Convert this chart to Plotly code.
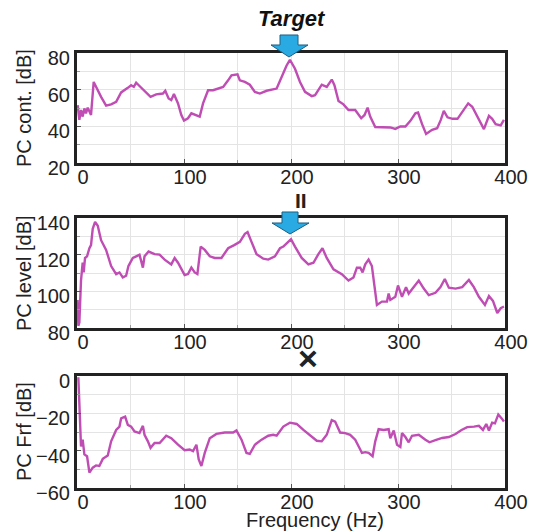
import plotly.graph_objects as go
from plotly.subplots import make_subplots

# ---- Data ----
freq_cont = [0.6, 1.25, 2.2, 3.75, 5.3, 6.9, 8.4, 10, 11.6, 13.1, 15.6, 17.8, 22.5, 27.2, 31.9, 36.6,
             41.25, 47.5, 50.6, 53.1, 55.3, 58.4, 63, 68.75, 74, 80.3, 82.5, 85.6, 88.1, 90.6, 94.4,
             97.5, 100, 103.75, 106.9, 111.6, 114.7, 117.8, 122.5, 127.2, 131.9, 136.6, 141.25, 144.4,
             150, 152.2, 156.9, 161.5, 166.25, 170.9, 177.2, 183.4, 186.6, 191.25, 195.9, 199, 203.75,
             208.4, 213.1, 219.4, 222.5, 228.75, 233.4, 238.1, 240.6, 244.4, 249, 253.75, 260, 265.6,
             268.75, 271.6, 274, 278.75, 285, 292.8, 297.5, 302.2, 306.9, 311.6, 316.25, 318.75, 322.5,
             326.25, 331.9, 336.6, 340, 342.8, 346.25, 350.9, 355.6, 360, 365.6, 369.4, 375.6, 380.3,
             385, 388, 391.25, 396, 399]
cont_db = [51.6, 46.2, 43.5, 48.9, 45.3, 49.8, 47.1, 50.2, 48.0, 46.2, 64.2, 61.5, 56.1, 51.3, 52.0, 53.4,
           58.5, 61.0, 62.4, 61.5, 63.8, 62.0, 59.2, 56.1, 57.4, 57.9, 59.4, 55.2, 54.3, 57.6, 52.5,
           46.2, 43.2, 44.4, 47.1, 46.2, 45.3, 52.5, 59.7, 59.7, 60.6, 61.5, 65.1, 67.8,
           68.4, 65.1, 64.2, 62.7, 58.8, 57.9, 59.4, 60.3, 60.6, 66.9, 73.2, 76.3, 71.4,
           64.2, 58.8, 56.5, 57.0, 62.7, 61.5, 65.5, 62.4, 53.8, 52.0, 48.9, 48.9, 44.4,
           46.2, 50.2, 45.3, 39.6, 39.6, 39.4, 38.6, 39.9, 39.9, 43.0, 47.1, 47.5, 41.2,
           35.8, 38.1, 39.0, 43.5, 48.4, 44.9, 44.1, 44.1, 48.0, 52.5, 50.7, 43.5, 38.5,
           45.7, 44.1, 41.2, 40.5, 43.5]

freq_level = [0.6, 1.25, 2.2, 3.75, 5.3, 6.25, 7.5, 9.4, 11.6, 13.1, 14.7, 16.9, 19.4, 22.5, 27.2, 31.9,
              36.6, 39.7, 42.8, 45.9, 48.1, 52.2, 55.3, 58.4, 61.6, 63.1, 66.9, 72.5, 77.2, 81.9, 88.1,
              91.25, 94.4, 100.6, 103.75, 106.9, 110, 112.5, 115.6, 119.4, 124.1, 128.75, 135, 141.25,
              146.9, 152.2, 156.9, 159.4, 163.1, 167.8, 174.1, 178.75, 185, 189.7, 192.8, 200, 203.75,
              210, 216.25, 221, 225.6, 229.4, 233.4, 239.7, 247.5, 253.75, 258.4, 261.6, 264.7, 266.9,
              269.4, 272.5, 275.6, 278.75, 280.3, 285, 289.7, 291.25, 292.8, 297.5, 300, 303.75, 307.5,
              310, 316.25, 319.4, 324.1, 328.75, 335, 339.7, 343.75, 347.5, 353.75, 360, 366.25, 370.9,
              375.6, 381.25, 385, 388.75, 392.8, 396, 399]
level_db = [95.3, 81.2, 83.0, 105.9, 115.6, 110.3, 118.2, 119.1, 123.5, 125.2, 134.1, 137.9, 135.8, 127.9,
            122.6, 113.8, 109.4, 110.3, 107.6, 108.5, 113.8, 118.2, 119.1, 120.0, 112.9, 119.1, 121.7,
            120.3, 120.0, 117.3, 114.7, 118.2, 115.6, 108.9, 109.4, 112.9, 110.3, 109.4, 124.4, 122.6,
            119.1, 118.2, 118.2, 123.5, 125.2, 127.0, 131.4, 132.3, 127.0, 120.3, 117.8, 117.3, 119.1,
            123.5, 124.4, 128.4, 124.4, 118.2, 114.7, 115.6, 120.3, 123.5, 118.2, 112.0, 109.4, 105.9,
            107.6, 112.9, 112.9, 110.3, 114.7, 117.3, 113.8, 100.6, 92.6, 94.4, 94.4, 98.8, 95.3, 97.0,
            103.2, 97.0, 102.3, 98.8, 103.2, 105.9, 101.5, 97.9, 99.2, 102.3, 106.7, 102.0, 101.5, 102.3,
            106.2, 102.3, 97.0, 92.6, 97.4, 94.8, 88.2, 90.8, 91.7]

freq_frf = [1.25, 2.2, 3.1, 3.75, 5.3, 6.9, 9.4, 11.6, 14.7, 17.8, 20.9, 24.1, 28.75, 31.9, 36.6, 39.7,
            41.25, 45, 47.5, 50.6, 53.75, 58.4, 61.6, 63.1, 66.25, 68.75, 72.5, 77.2, 83.4, 88.1, 94.4,
            100.6, 105.3, 108.4, 111.6, 113.75, 116.25, 119.4, 124.1, 130.3, 138.1, 145.9, 149, 153.75,
            158.4, 161.5, 166.25, 172.5, 178.75, 183.4, 186.6, 192.8, 199, 205.3, 211.6, 217.8, 224.1,
            228.75, 233.4, 238.1, 241.25, 245.9, 250.6, 255.3, 260, 264.7, 266.25, 269.4, 272.5, 276.25,
            278.75, 281.9, 286.6, 291.25, 292.8, 296, 299.1, 302.2, 303.75, 306.9, 310, 313.1, 319.4,
            325.6, 329.4, 335, 341.25, 347.5, 353.75, 359.4, 364.7, 371, 375.6, 379.4, 382.5, 385, 388,
            390.6, 393.75, 396.9, 399]
frf_db = [-0.7, -16.5, -25.3, -37.7, -34.1, -42.0, -43.0, -51.8, -49.1, -47.9, -48.2, -44.4, -42.6, -35.0,
          -28.9, -27.1, -22.7, -21.8, -26.2, -27.1, -29.7, -30.6, -26.7, -31.5, -35.0, -38.5, -35.9, -35.9,
          -32.0, -33.3, -36.8, -39.8, -39.4, -40.3, -36.8, -44.7, -48.2, -41.2, -33.3, -31.0, -30.3, -30.3,
          -29.2, -34.1, -41.2, -41.7, -36.8, -34.1, -32.0, -31.5, -32.0, -27.1, -25.0, -25.7, -28.9, -32.0,
          -34.7, -35.0, -31.5, -23.6, -24.4, -30.3, -30.6, -31.5, -34.1, -39.4, -41.2, -40.8, -41.2, -43.0,
          -35.0, -28.5, -28.9, -28.5, -33.3, -29.2, -36.8, -38.0, -30.6, -32.7, -35.5, -32.0, -31.5,
          -34.1, -35.5, -34.4, -33.2, -32.7, -31.1, -28.9, -27.4, -27.1, -26.7, -28.9, -25.7, -29.2, -25.0,
          -25.4, -20.6, -22.7, -24.4]

y_titles = ["PC cont. [dB]", "PC level [dB]", "PC Frf [dB]"]
y_ranges = [[20, 80], [80, 140], [-60, 0]]
x_ticks = [0, 100, 200, 300, 400]

# ---- Figure ----
W, H = 550, 532
L, R, T, B = 77, 45, 53, 44
plot_h = H - T - B
plot_w = W - L - R


def py(p):  # pixel y -> paper y
    return (H - B - p) / plot_h


def px(p):  # pixel x -> paper x
    return (p - L) / plot_w


fig = make_subplots(rows=3, cols=1)
domains = [[py(163), 1.0], [py(328), py(218)], [0.0, py(376)]]

line_color = "#BF4DB3"
series = [(freq_cont, cont_db), (freq_level, level_db), (freq_frf, frf_db)]
for i, (fx, fy) in enumerate(series):
    fig.add_trace(go.Scatter(x=fx, y=fy, mode="lines",
                             line=dict(color=line_color, width=2.4),
                             showlegend=False, hoverinfo="skip"), row=i + 1, col=1)

font_main = "Liberation Sans, Arial, sans-serif"
for i in range(3):
    xa = "xaxis" if i == 0 else f"xaxis{i+1}"
    ya = "yaxis" if i == 0 else f"yaxis{i+1}"
    fig.layout[xa].update(
        range=[0, 400], tickvals=x_ticks, ticktext=[str(v) for v in x_ticks],
        domain=[0, 1], automargin=False,
        showgrid=True, gridcolor="#e4e4e4", gridwidth=1,
        minor=dict(dtick=50, tick0=0, showgrid=True, gridcolor="#e4e4e4", ticks="inside", ticklen=3,
                   tickcolor="#999"),
        showline=True, linecolor="#222", linewidth=3, mirror=True,
        ticks="inside", ticklen=4, tickcolor="#555",
        tickfont=dict(size=20, color="#222", family=font_main),
        zeroline=False, fixedrange=True, ticklabelshift=6, ticklabelstandoff=-6,
    )
    r = y_ranges[i]
    fig.layout[ya].update(
        range=r, domain=domains[i], tickvals=list(range(r[0], r[1] + 1, 20)),
        automargin=False,
        showgrid=True, gridcolor="#e4e4e4", gridwidth=1,
        minor=dict(dtick=10, tick0=r[0], showgrid=True, gridcolor="#e4e4e4", ticks="inside", ticklen=3,
                   tickcolor="#999"),
        showline=True, linecolor="#222", linewidth=3, mirror=True,
        ticks="inside", ticklen=4, tickcolor="#555",
        tickfont=dict(size=20, color="#222", family=font_main),
        zeroline=False, fixedrange=True, ticklabelshift=5,
    )

annotations = []
# y-axis titles
for i, t in enumerate(y_titles):
    d = domains[i]
    annotations.append(dict(text=t, xref="paper", yref="paper", x=px(24), y=(d[0] + d[1]) / 2,
                            textangle=-90, showarrow=False, xanchor="center", yanchor="middle",
                            font=dict(size=20, color="#222", family=font_main)))
# x-axis title
annotations.append(dict(text="Frequency (Hz)", xref="paper", yref="paper", x=px(315), y=py(520),
                        showarrow=False, xanchor="center", yanchor="middle",
                        font=dict(size=20, color="#222", family=font_main)))
# Target label
annotations.append(dict(text="<b><i>Target</i></b>", xref="paper", yref="paper", x=px(292), y=py(19),
                        showarrow=False, xanchor="center", yanchor="middle",
                        font=dict(size=22, color="#111", family=font_main)))
# equality sign between panel 1 and 2
annotations.append(dict(text="<b>II</b>", xref="paper", yref="paper", x=px(301), y=py(200),
                        showarrow=False, xanchor="center", yanchor="middle",
                        font=dict(size=21, color="#222", family=font_main)))
# multiplication sign between panel 2 and 3
annotations.append(dict(text="<b>×</b>", xref="paper", yref="paper", x=px(308), y=py(358),
                        showarrow=False, xanchor="center", yanchor="middle",
                        font=dict(size=34, color="#222", family=font_main)))


def arrow_path(xl_head, xl_shaft, x_tip, xr_shaft, xr_head, y_top, y_head, y_tip):
    pts = [(xl_shaft, y_top), (xr_shaft, y_top), (xr_shaft, y_head), (xr_head, y_head),
           (x_tip, y_tip), (xl_head, y_head), (xl_shaft, y_head)]
    return "M " + " L ".join(f"{px(a):.4f},{py(b):.4f}" for a, b in pts) + " Z"


shapes = [
    dict(type="path", xref="paper", yref="paper",
         path=arrow_path(271, 280, 289, 298, 308, 35, 45, 57),
         fillcolor="#2AAAE2", line=dict(color="#1d5f80", width=1)),
    dict(type="path", xref="paper", yref="paper",
         path=arrow_path(272, 282, 290, 298, 309, 212, 223, 234),
         fillcolor="#2AAAE2", line=dict(color="#1d5f80", width=1)),
]

fig.update_layout(
    width=W, height=H, margin=dict(l=L, r=R, t=T, b=B, autoexpand=False),
    paper_bgcolor="white", plot_bgcolor="white",
    annotations=annotations, shapes=shapes, showlegend=False,
    font=dict(family=font_main, color="#222"),
)

fig.write_html("out.html", config={"displayModeBar": False},
               post_script="document.body.style.margin='0';document.body.style.overflow='hidden';")
